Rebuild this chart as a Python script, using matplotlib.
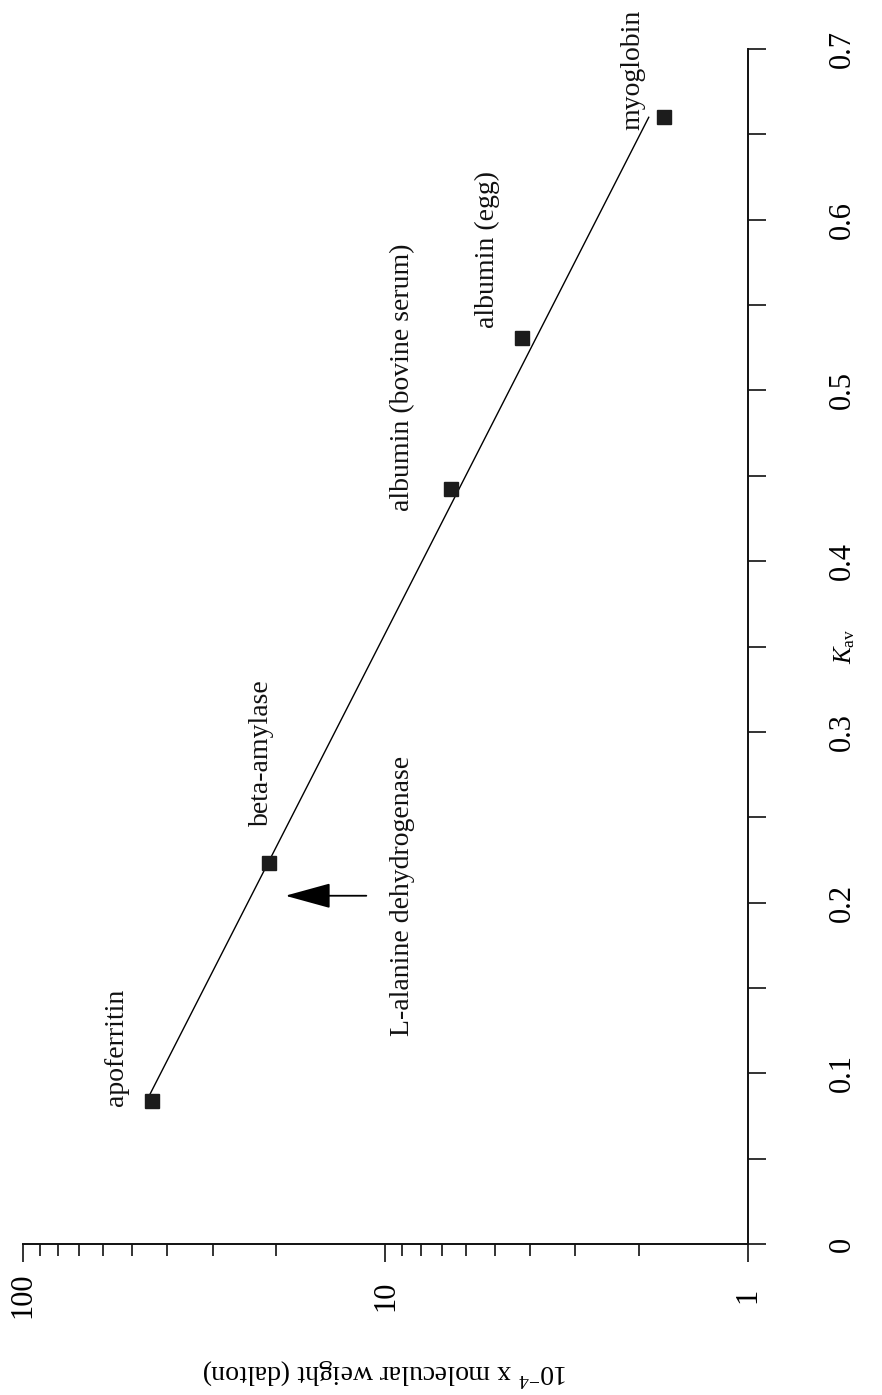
import numpy as np
import matplotlib
matplotlib.use("Agg")
import matplotlib.pyplot as plt
from matplotlib.ticker import MultipleLocator, LogLocator, FuncFormatter, NullFormatter, FixedLocator

plt.rcParams['font.family'] = ['Liberation Serif', 'DejaVu Serif']
plt.rcParams['mathtext.fontset'] = 'custom'
plt.rcParams['mathtext.rm'] = 'Liberation Serif'
plt.rcParams['mathtext.it'] = 'Liberation Serif:italic'

# ---- data ----
proteins = ["apoferritin", "beta-amylase", "albumin (bovine serum)", "albumin (egg)", "myoglobin"]
kav = [0.084, 0.223, 0.442, 0.531, 0.660]
mw = [44.0, 21.0, 6.6, 4.2, 1.7]          # 10^-4 x molecular weight (dalton)
unknown_name = "L-alanine dehydrogenase"
unknown_kav = 0.204
kav_ticks = [0.0, 0.1, 0.2, 0.3, 0.4, 0.5, 0.6, 0.7]
mw_ticks = [1, 10, 100]

# ---- layout (label offsets in pixels relative to each point) ----
label_offsets = {
    "apoferritin": (-36, -5),
    "beta-amylase": (-7, 37),
    "albumin (bovine serum)": (-48, -22),
    "albumin (egg)": (-35, 10),
    "myoglobin": (-32, -13),
}

fig = plt.figure(figsize=(8.82, 13.95), dpi=100)
ax = fig.add_axes([23/882, 151/1395, 725/882, 1195/1395])

ax.set_xscale('log')
ax.set_xlim(100, 1)
ax.set_ylim(0, 0.7)

# regression line through log(MW) vs Kav
k = np.array(kav)
lm = np.log10(np.array(mw))
slope, intercept = np.polyfit(k, lm, 1)
kk = np.linspace(k.min(), k.max(), 50)
ax.plot(10**(intercept + slope*kk), kk, color='black', lw=1.0, zorder=2)

ax.plot(mw, kav, linestyle='none', marker='s', markersize=10,
        color='#1c1c1c', zorder=3, clip_on=False)

for name, x, y in zip(proteins, mw, kav):
    dx, dy = label_offsets[name]
    ax.annotate(name, xy=(x, y), xytext=(dx, dy), textcoords='offset pixels',
                rotation=90, ha='center', va='bottom', fontsize=20, color='#111')

# unknown: arrow + label
mw_unknown_line = 10**(intercept + slope*unknown_kav)
ax.annotate('', xy=(mw_unknown_line, unknown_kav), xytext=(115, 0),
            textcoords='offset pixels',
            arrowprops=dict(arrowstyle='-|>,head_length=0.8,head_width=0.22',
                            mutation_scale=36, lw=1.3, color='black',
                            shrinkA=0, shrinkB=24.5))
ax.annotate(unknown_name, xy=(mw_unknown_line, unknown_kav), xytext=(151, 0),
            textcoords='offset pixels', rotation=90, ha='center', va='center',
            fontsize=20, color='#111')

# spines
for s in ['top', 'left']:
    ax.spines[s].set_visible(False)
for s in ['bottom', 'right']:
    ax.spines[s].set_linewidth(1.4)
    ax.spines[s].set_color('#111')

# Kav axis on the right
ax.yaxis.tick_right()
ax.yaxis.set_major_locator(FixedLocator(kav_ticks))
ax.yaxis.set_minor_locator(MultipleLocator(0.05))
ax.yaxis.set_major_formatter(FuncFormatter(lambda v, p: '0' if abs(v) < 1e-9 else f'{v:.1f}'))
ax.tick_params(axis='y', which='both', direction='out', length=13, width=1.2,
               color='#111', right=True, left=False)
ax.tick_params(axis='y', which='major', labelsize=22, pad=55, labelrotation=90)
for lab in ax.get_yticklabels():
    lab.set_ha('center')
    lab.set_va('center')

ax.set_ylabel(r'$K_{\mathrm{av}}$', fontsize=18, rotation=90)
ax.yaxis.set_label_position('right')
ax.yaxis.set_label_coords(1.134, 0.5)
ax.yaxis.label.set_ha('center')
ax.yaxis.label.set_va('center')

# MW axis at bottom (log)
ax.xaxis.set_major_locator(FixedLocator(mw_ticks))
ax.xaxis.set_minor_locator(LogLocator(base=10, subs=np.arange(2, 10)))
ax.xaxis.set_major_formatter(FuncFormatter(lambda v, p: f'{v:g}'))
ax.xaxis.set_minor_formatter(NullFormatter())
ax.tick_params(axis='x', which='major', direction='out', length=13, width=1.2,
               color='#111', labelsize=22, pad=24, labelrotation=90)
ax.tick_params(axis='x', which='minor', direction='out', length=8.5, width=1.2, color='#111')
for lab in ax.get_xticklabels():
    lab.set_ha('center')
    lab.set_va('center')

ax.set_xlabel(r'10$^{-4}$ x molecular weight (dalton)', fontsize=20, rotation=180)
ax.xaxis.set_label_coords(0.5, -0.107)
ax.xaxis.label.set_ha('center')
ax.xaxis.label.set_va('center')

fig.savefig('out.png', dpi=100, facecolor='white')
